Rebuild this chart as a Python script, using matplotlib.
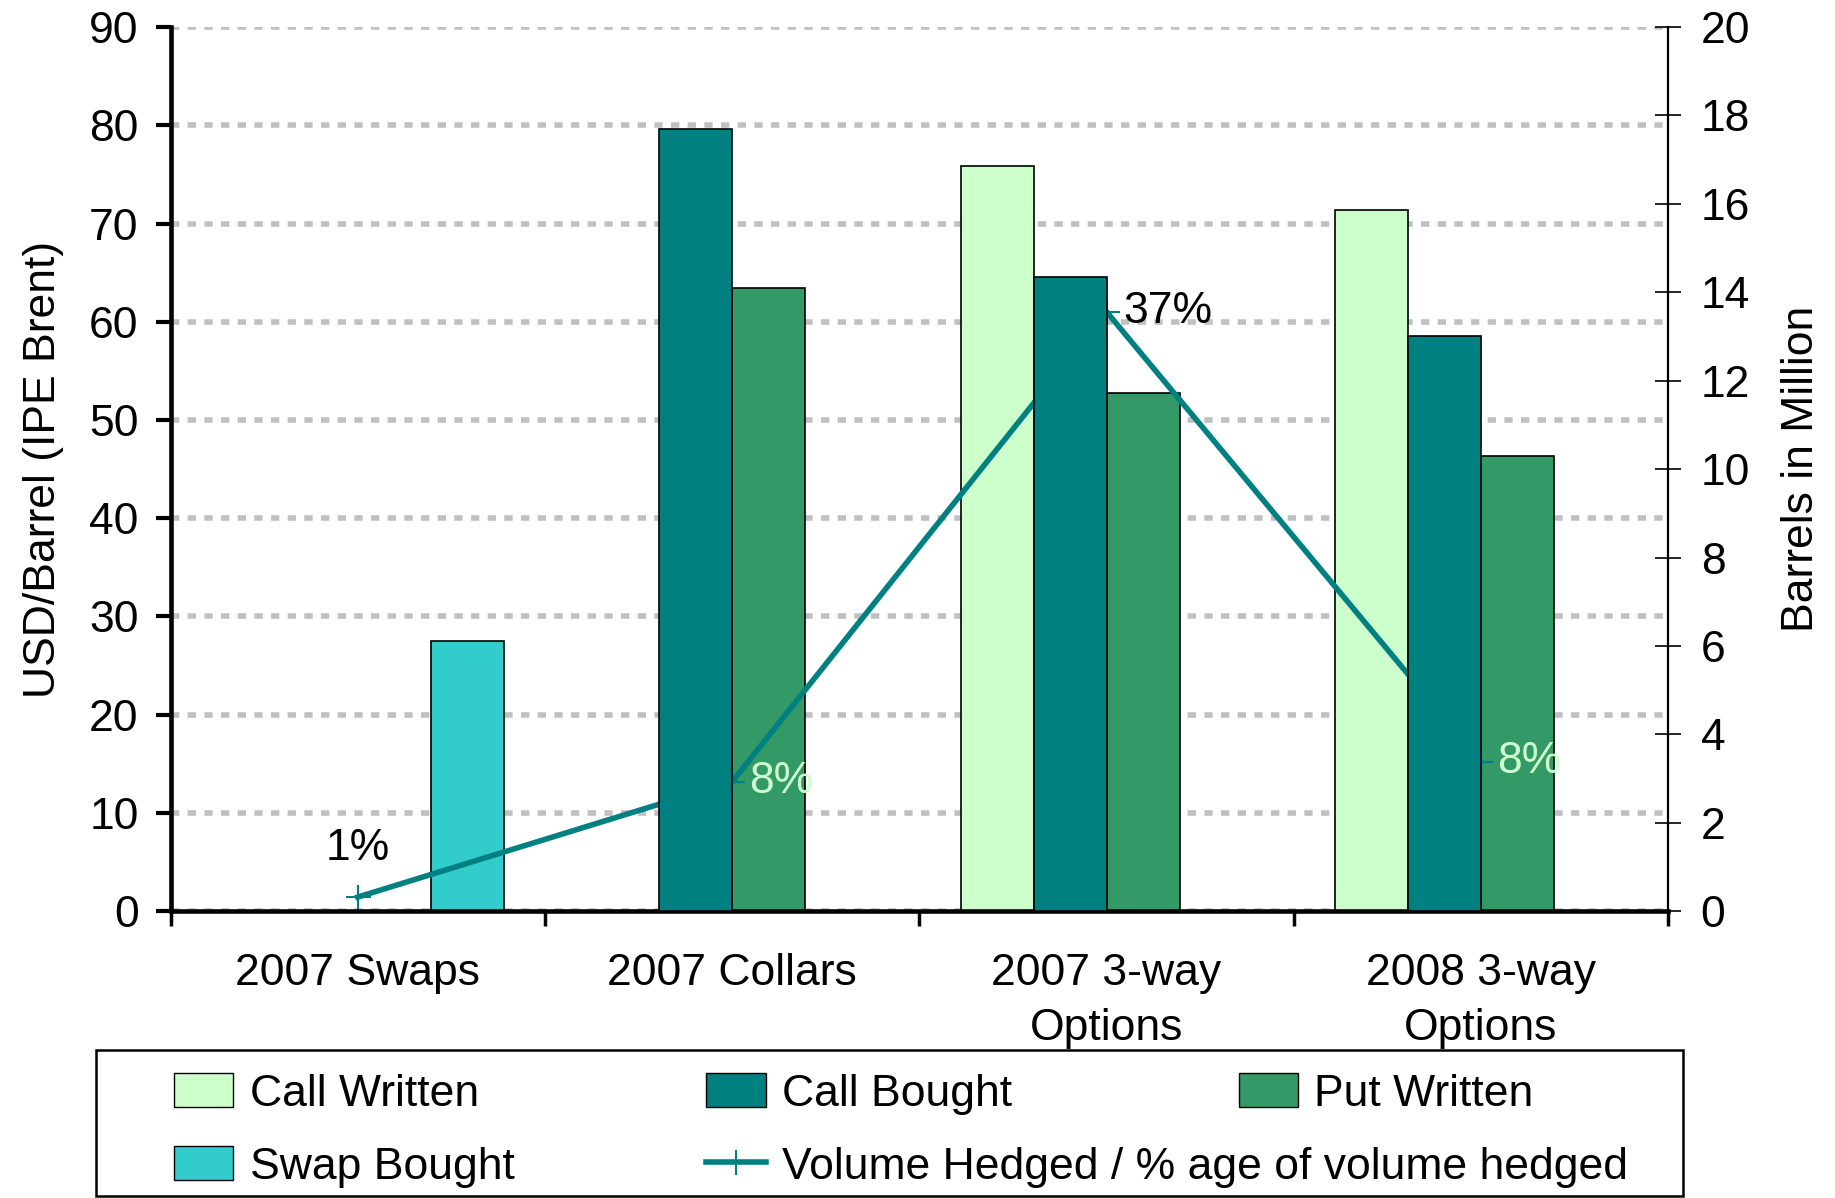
import numpy as np
import matplotlib.pyplot as plt
import matplotlib.patches as mpatches
from matplotlib.lines import Line2D

plt.rcParams['font.family'] = ['Liberation Sans', 'DejaVu Sans']

# Données
categories = ['2007 Swaps', '2007 Collars', '2007 3-way\nOptions', '2008 3-way\nOptions']
call_written = [np.nan, np.nan, 75.9, 71.4]
call_bought = [np.nan, 79.6, 64.6, 58.6]
put_written = [np.nan, 63.4, 52.8, 46.3]
swap_bought = [27.5, np.nan, np.nan, np.nan]
volume_hedged = [0.32, 2.93, 13.56, 3.38]   # millions de barils
pct_labels = ['1%', '8%', '37%', '8%']

c_call_w = '#ccffcc'
c_call_b = '#008080'
c_put_w = '#339966'
c_swap = '#33cccc'
fs = 32

fig = plt.figure(figsize=(18.35, 11.98), dpi=100)
ax = fig.add_axes([0.093, 0.2394, 0.816, 0.738])
ax2 = ax.twinx()

x = np.arange(len(categories))
w = 0.195

ax.bar(x - 1.5 * w, call_written, w, color=c_call_w, edgecolor='black', linewidth=1.2, zorder=2)
ax.bar(x - 0.5 * w, call_bought, w, color=c_call_b, edgecolor='black', linewidth=1.2, zorder=3)
ax.bar(x + 0.5 * w, put_written, w, color=c_put_w, edgecolor='black', linewidth=1.2, zorder=2)
ax.bar(x + 1.5 * w, swap_bought, w, color=c_swap, edgecolor='black', linewidth=1.2, zorder=2)

ax.set_xlim(-0.5, 3.5)
ax.set_ylim(0, 90)
ax2.set_ylim(0, 20)

# ligne (axe secondaire) dessinée entre les barres
ax.plot(x, volume_hedged, color='#008080', linewidth=4, marker='+',
        markersize=18, markeredgewidth=1.5, transform=ax2.transData, zorder=2.5)
ax.set_xlim(-0.5, 3.5)
ax.set_ylim(0, 90)

lab_colors = ['black', c_call_w, 'black', c_call_w]
for i, (v, t) in enumerate(zip(volume_hedged, pct_labels)):
    if i == 0:
        ax2.annotate(t, (x[i], v), xytext=(0, 35), textcoords='offset points',
                     ha='center', va='center', fontsize=fs, color=lab_colors[i])
    else:
        ax2.annotate(t, (x[i], v), xytext=(12, 0), textcoords='offset points',
                     ha='left', va='center', fontsize=fs, color=lab_colors[i])

# grille
ax.set_axisbelow(True)
ax.yaxis.grid(True, color='#c0c0c0', linestyle=(0, (1.5, 1.5)), linewidth=4)
ax.set_yticks(np.arange(0, 91, 10))
ax2.set_yticks(np.arange(0, 21, 2))

# axe x
ax.set_xticks([-0.5, 0.5, 1.5, 2.5, 3.5])
ax.set_xticklabels([])
ax.set_xticks(x, categories, minor=True)
for t in ax.get_xticklabels(minor=True):
    t.set_linespacing(1.45)
ax.tick_params(axis='x', which='major', direction='out', length=11, width=2.5)
ax.tick_params(axis='x', which='minor', length=0, pad=30, labelsize=fs)
ax.tick_params(axis='y', direction='out', length=11, width=3, labelsize=fs, pad=12)
ax2.tick_params(axis='y', direction='inout', length=19, width=1.2, labelsize=fs, pad=14)

for s in ['top', 'right']:
    ax.spines[s].set_visible(False)
for s in ['top', 'left', 'bottom']:
    ax2.spines[s].set_visible(False)
ax.spines['left'].set_linewidth(3.3)
ax.spines['bottom'].set_linewidth(3.3)
ax2.spines['right'].set_linewidth(1.6)

ax.set_ylabel('USD/Barrel (IPE Brent)', fontsize=fs, labelpad=18)
ax2.set_ylabel('Barrels in Million', fontsize=fs, rotation=90, labelpad=22)

# légende façon Excel (colonnes fixes)
fig.patches.append(mpatches.Rectangle((0.0523, 0.0017), 0.8649, 0.1218, transform=fig.transFigure,
                                      fill=False, edgecolor='black', linewidth=1.8))
entries = [
    (mpatches.Patch(facecolor=c_call_w, edgecolor='black'), 'Call Written', 0.0949, 0.0868),
    (mpatches.Patch(facecolor=c_call_b, edgecolor='black'), 'Call Bought', 0.385, 0.0868),
    (mpatches.Patch(facecolor=c_put_w, edgecolor='black'), 'Put Written', 0.675, 0.0868),
    (mpatches.Patch(facecolor=c_swap, edgecolor='black'), 'Swap Bought', 0.0949, 0.0259),
    (Line2D([], [], color='#008080', linewidth=4, marker='+', markersize=18, markeredgewidth=1.5),
     'Volume Hedged / % age of volume hedged', 0.385, 0.0259),
]
for h, lab, lx, ly in entries:
    fig.legend(handles=[h], labels=[lab], loc='center left', bbox_to_anchor=(lx, ly),
               frameon=False, fontsize=fs, borderpad=0, borderaxespad=0,
               handlelength=1.33, handleheight=0.79, handletextpad=0.37)

fig.savefig('out.png', dpi=100)
